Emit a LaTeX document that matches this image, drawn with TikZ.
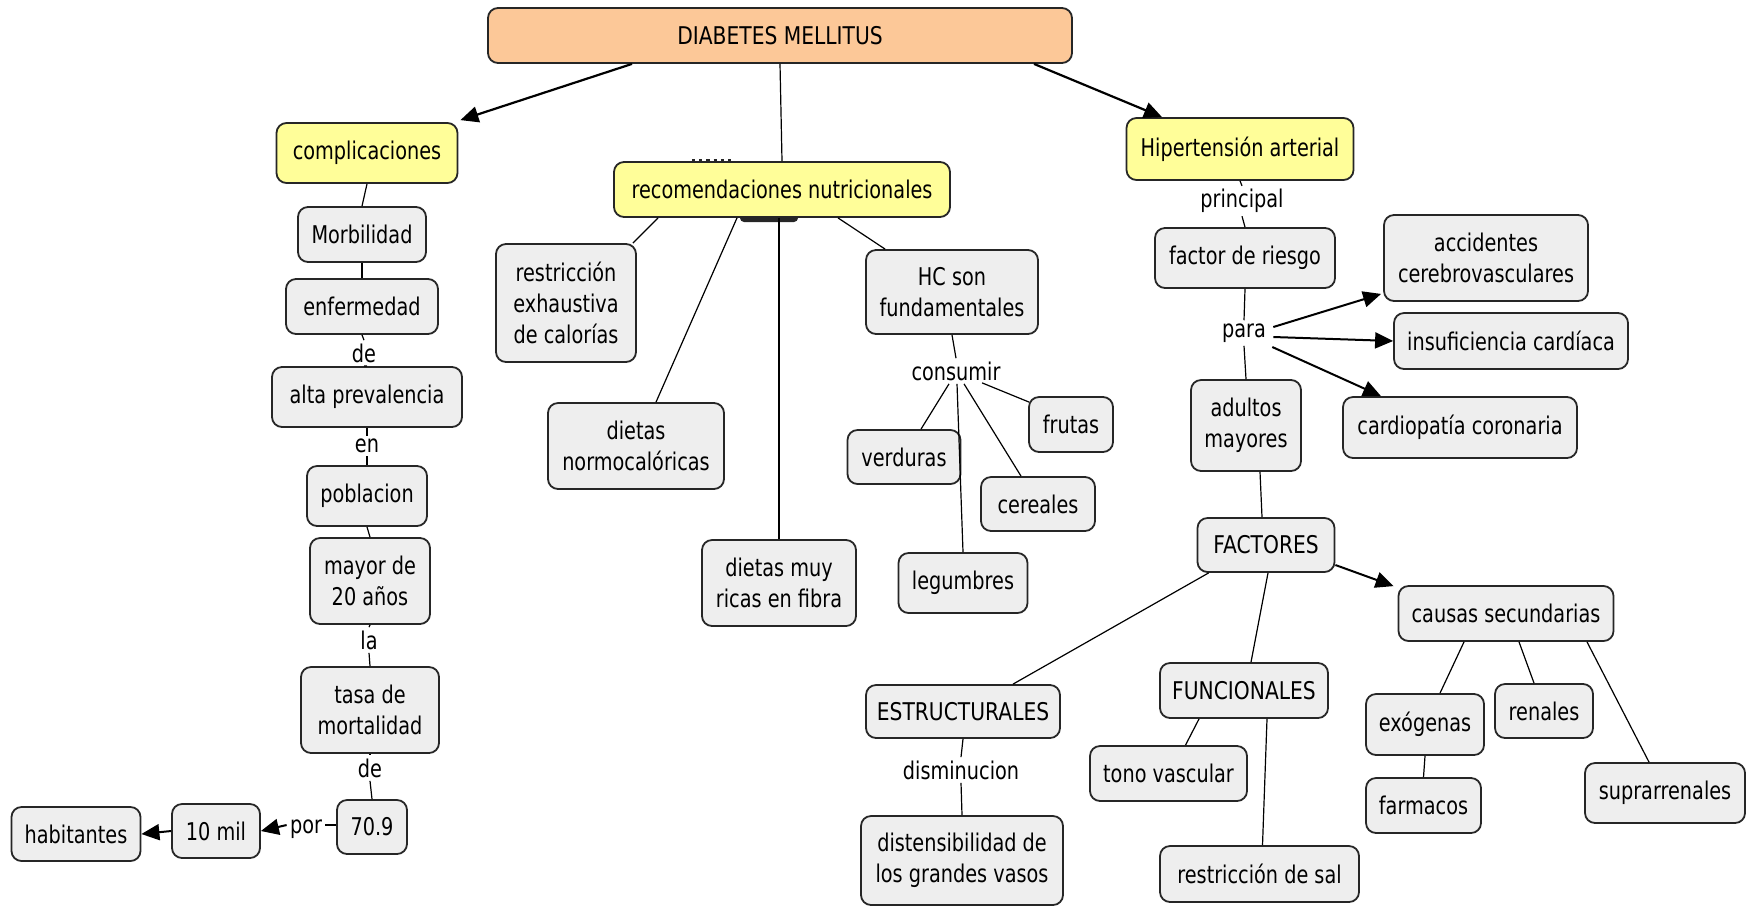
\documentclass[tikz,border=0pt]{standalone}
\usepackage{fontspec}
\setmainfont{DejaVu Sans}[FakeStretch=0.79]
\newfontfamily\capsfont{DejaVu Sans}[FakeStretch=0.83]
\usetikzlibrary{arrows.meta,calc}
\definecolor{boxgray}{RGB}{238,238,238}
\definecolor{boxyellow}{RGB}{255,254,153}
\definecolor{boxorange}{RGB}{252,200,152}
\begin{document}
\begin{tikzpicture}[x=0.5pt,y=-0.5pt, font=\fontsize{12.2}{15.5}\selectfont,
  box/.style={draw=black!85, line width=0.9pt, rounded corners=5pt, fill=boxgray, align=center, inner sep=0pt},
  sz/.style 2 args={minimum width=#1*0.5pt, minimum height=#2*0.5pt},
  yel/.style={fill=boxyellow},
  caps/.style={font=\fontsize{12.2}{15.5}\capsfont},
  lbl/.style={inner sep=1.5pt, align=center},
  ln/.style={line width=0.6pt},
  arr/.style={line width=1pt, -{Triangle[length=9pt,width=8pt]}}]
\useasboundingbox (0,0) rectangle (1754,907);

% small artefacts around the nutrition box
\fill[black!85, rounded corners=2pt] (740,211) rectangle (798,222);
\draw[black!85, dotted, line width=1.6pt] (692,161) -- (731,161);

% top level
\node[box,caps,sz={584}{55},fill=boxorange] (D) at (780,35.5) {DIABETES MELLITUS};
\node[box,yel,sz={181}{60}] (compl) at (367,153) {complicaciones};
\node[box,yel,sz={336}{55}] (rec) at (782,189.5) {recomendaciones nutricionales};
\node[box,yel,sz={227}{62}] (hip) at (1240,149) {Hipertensión arterial};

% left column
\node[box,sz={128}{55}] (morb) at (362,234.5) {Morbilidad};
\node[box,sz={152}{55}] (enf) at (362,306.5) {enfermedad};
\node[lbl] (de1) at (364,353) {de};
\node[box,sz={190}{60}] (alta) at (367,397) {alta prevalencia};
\node[lbl] (en) at (367,446) {en};
\node[box,sz={120}{60}] (pob) at (367,496) {poblacion};
\node[box,sz={120}{86}] (mayor) at (370,581) {mayor de\\20 años};
\node[lbl] (la) at (369,640) {la};
\node[box,sz={138}{86}] (tasa) at (370,710) {tasa de\\mortalidad};
\node[lbl] (de2) at (370,768) {de};
\node[box,sz={70}{54}] (n709) at (372,827) {70.9};
\node[lbl] (por) at (306,829) {por};
\node[box,sz={88}{54}] (diez) at (216,831) {10 mil};
\node[box,sz={129}{54}] (hab) at (76,834) {habitantes};

% nutrition
\node[box,sz={140}{118}] (restr) at (566,303) {restricción\\exhaustiva\\de calorías};
\node[box,sz={176}{86}] (normo) at (636,446) {dietas\\normocalóricas};
\node[box,sz={154}{86}] (fibra) at (779,583) {dietas muy\\ricas en fibra};
\node[box,sz={172}{84}] (hc) at (952,292) {HC son\\fundamentales};
\node[lbl] (cons) at (956,371) {consumir};
\node[box,sz={113}{54}] (verd) at (904,457) {verduras};
\node[box,sz={84}{55}] (frut) at (1071,424.5) {frutas};
\node[box,sz={114}{54}] (cer) at (1038,504) {cereales};
\node[box,sz={129}{60}] (leg) at (963,583) {legumbres};

% hypertension
\node[lbl] (princ) at (1242,201) {principal};
\node[box,sz={180}{60}] (fact) at (1245,258) {factor de riesgo};
\node[box,sz={204}{86}] (acc) at (1486,258) {accidentes\\cerebrovasculares};
\node[lbl] (para) at (1244,333) {para};
\node[box,sz={234}{56}] (insuf) at (1511,341) {insuficiencia cardíaca};
\node[box,sz={110}{91}] (adul) at (1246,425.5) {adultos\\mayores};
\node[box,sz={234}{61}] (card) at (1460,427.5) {cardiopatía coronaria};
\node[box,caps,sz={137}{54}] (facs) at (1266,545) {FACTORES};
\node[box,sz={215}{55}] (caus) at (1506,613.5) {causas secundarias};
\node[box,caps,sz={194}{53}] (estr) at (963,711.5) {ESTRUCTURALES};
\node[box,caps,sz={168}{55}] (func) at (1244,690.5) {FUNCIONALES};
\node[lbl] (dism) at (961,770) {disminucion};
\node[box,sz={202}{89}] (dist) at (962,860.5) {distensibilidad de\\los grandes vasos};
\node[box,sz={157}{55}] (tono) at (1168.5,773.5) {tono vascular};
\node[box,sz={199}{56}] (sal) at (1259.5,874) {restricción de sal};
\node[box,sz={118}{61}] (exo) at (1425,724.5) {exógenas};
\node[box,sz={98}{54}] (ren) at (1544,711) {renales};
\node[box,sz={115}{55}] (farm) at (1423.5,805.5) {farmacos};
\node[box,sz={160}{60}] (supr) at (1665,793) {suprarrenales};

% connectors: top
\draw[arr,line width=1.1pt] ($(D.south)+(-148,0)$) -- ($(compl.north east)+(2,-2)$);
\draw[ln] (D.south) -- (rec.north);
\draw[arr,line width=1.1pt] ($(D.south)+(254,0)$) -- ($(hip.north)+(-78,0)$);

% left column
\draw[ln] (compl.south) -- (morb.north);
\draw[ln] (morb.south) -- (enf.north);
\draw[ln] (enf.south) -- (de1.north);
\draw[ln] (de1.south) -- (alta.north);
\draw[ln] (alta.south) -- (en.north);
\draw[ln] (en.south) -- (pob.north);
\draw[ln] (pob.south) -- (mayor.north);
\draw[ln] (mayor.south) -- (la.north);
\draw[ln] (la.south) -- (tasa.north);
\draw[ln] (tasa.south) -- (de2.north);
\draw[ln] (de2.south) -- (n709.north);
\draw[ln] ($(n709.west)+(0,-2)$) -- ($(por.east)+(0,-4)$);
\draw[arr] ($(por.west)+(0,-4)$) -- (diez.east);
\draw[arr] (diez.west) -- (hab.east);

% nutrition
\draw[ln] ($(rec.south)+(-124,0)$) -- ($(restr.north east)+(-4,0)$);
\draw[ln] ($(rec.south)+(-45,0)$) -- ($(normo.north)+(20,0)$);
\draw[ln] (rec.south -| fibra.north) -- (fibra.north);
\draw[ln] ($(rec.south)+(56,0)$) -- ($(hc.north west)+(20,0)$);
\draw[ln] (hc.south) -- (cons.north);
\draw[ln] ($(cons.south)+(-7,0)$) -- ($(verd.north)+(17,0)$);
\draw[ln] ($(cons.south)+(1,0)$) -- (leg.north);
\draw[ln] ($(cons.south)+(8,0)$) -- ($(cer.north)+(-17,0)$);
\draw[ln] ($(cons.south)+(26,-1)$) -- ($(frut.north west)+(1,6)$);

% hypertension
\draw[ln] (hip.south) -- (princ.north);
\draw[ln] (princ.south) -- (fact.north);
\draw[ln] (fact.south) -- (para.north);
\draw[ln] (para.south) -- (adul.north);
\draw[arr] ($(para.east)+(4,-6)$) -- ($(acc.south west)+(-2,-8)$);
\draw[arr] ($(para.east)+(4,4)$) -- (insuf.west);
\draw[arr] ($(para.east)+(3,14)$) -- ($(card.north)+(-79,0)$);
\draw[ln] ($(adul.south)+(14,0)$) -- ($(facs.north)+(-4,0)$);
\draw[ln] ($(facs.south west)+(12,0)$) -- ($(estr.north)+(50,0)$);
\draw[ln] ($(facs.south)+(2,0)$) -- ($(func.north)+(7,0)$);
\draw[arr] ($(facs.east)+(0,20)$) -- ($(caus.north west)+(-4,1)$);
\draw[ln] (estr.south) -- (dism.north);
\draw[ln] (dism.south) -- (dist.north);
\draw[ln] ($(func.south)+(-45,0)$) -- ($(tono.north)+(17,0)$);
\draw[ln] ($(func.south)+(23,0)$) -- ($(sal.north)+(3,0)$);
\draw[ln] ($(caus.south)+(-42,0)$) -- ($(exo.north)+(15,0)$);
\draw[ln] ($(caus.south)+(13,0)$) -- ($(ren.north)+(-10,0)$);
\draw[ln] ($(caus.south)+(81,0)$) -- ($(supr.north)+(-16,0)$);
\draw[ln] (exo.south) -- (farm.north);
\end{tikzpicture}
\end{document}
